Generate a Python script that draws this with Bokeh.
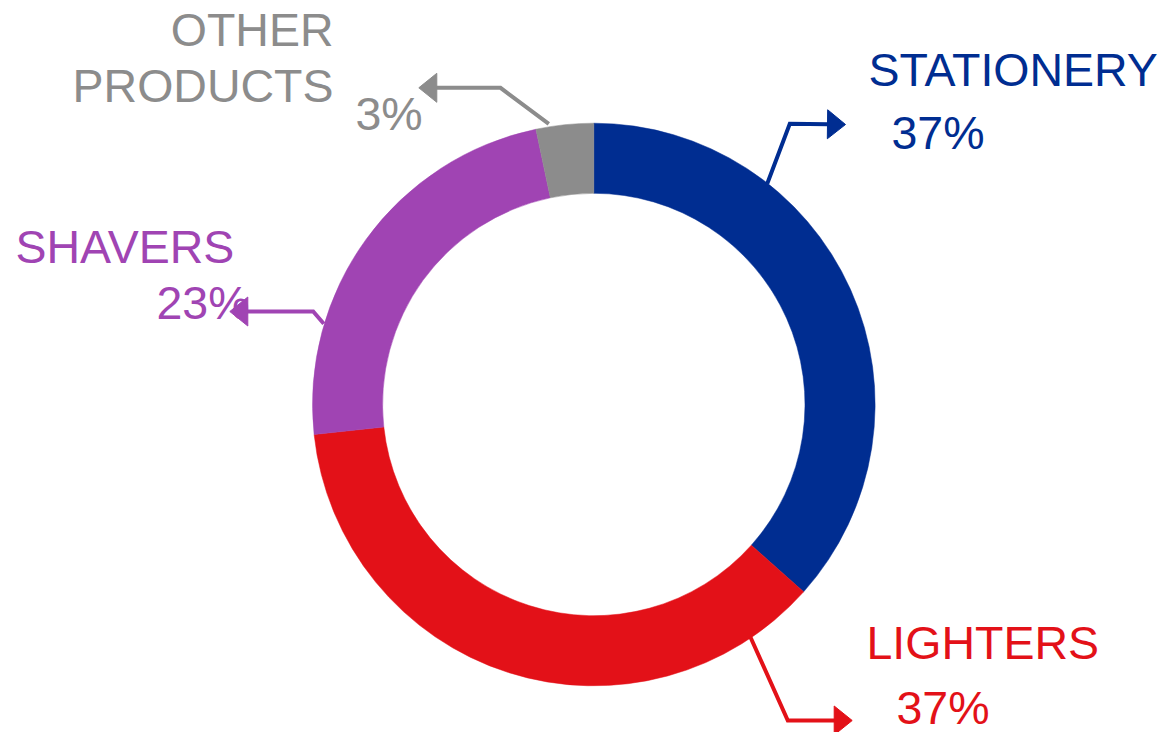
import math
from bokeh.plotting import figure
from bokeh.models import Range1d
from bokeh.core.properties import value
from bokeh.embed import file_html
from bokeh.resources import INLINE

# ---- data ----
categories = ["STATIONERY", "LIGHTERS", "SHAVERS", "OTHER\nPRODUCTS"]
shares = [36.6, 36.7, 23.4, 3.3]
pct_labels = ["37%", "37%", "23%", "3%"]
colors = ["#002D91", "#E31118", "#A044B3", "#8C8C8C"]

# ---- layout (pixel coordinates, y measured downwards) ----
W, H = 1163, 732
CX, CY = 593.3, 404.0
R_OUT, R_IN = 281.3, 211.2
FONT = "Liberation Sans"
FSIZE = "46.5px"
TEXT_SHIFT = -17.0  # renderer baseline correction

def fy(y):
    return H - y

p = figure(width=W, height=H, output_backend="svg", toolbar_location=None,
           x_range=Range1d(0, W), y_range=Range1d(0, H), min_border=0,
           outline_line_color=None, background_fill_color="white",
           border_fill_color="white")
p.axis.visible = False
p.grid.visible = False

# wedges, clockwise from 12 o'clock
total = sum(shares)
cum = 0.0
starts, ends = [], []
for s in shares:
    a0 = math.pi / 2 - 2 * math.pi * cum / total
    a1 = a0 - 2 * math.pi * s / total
    starts.append(a0)
    ends.append(a1)
    cum += s
p.annular_wedge(x=[CX] * len(shares), y=[fy(CY)] * len(shares),
                inner_radius=R_IN, outer_radius=R_OUT,
                start_angle=starts, end_angle=ends, direction="clock",
                fill_color=colors, line_color=colors, line_width=0.5)

# leader arrows: (start, bend, tip) in pixels
arrows = [
    [(766.7, 183.3), (789.3, 123.3), (845.0, 124.0)],
    [(750.0, 636.7), (787.3, 720.0), (851.7, 720.0)],
    [(323.3, 323.3), (312.7, 311.0), (229.3, 311.0)],
    [(548.3, 123.3), (500.0, 87.3), (418.3, 87.3)],
]
HEAD_LEN, HEAD_HALF = 18.0, 14.5
for pts, c in zip(arrows, colors):
    (x0, y0), (x1, y1), (x2, y2) = pts
    dx = x2 - x1
    dy = y2 - y1
    L = math.hypot(dx, dy)
    ux, uy = dx / L, dy / L
    bx, by = x2 - ux * HEAD_LEN, y2 - uy * HEAD_LEN
    p.line([x0, x1, bx + ux * 1.0], [fy(y0), fy(y1), fy(by + uy * 1.0)],
           line_color=c, line_width=4, line_join="miter")
    nx, ny = -uy, ux
    p.patch([x2, bx + nx * HEAD_HALF, bx - nx * HEAD_HALF],
            [fy(y2), fy(by + ny * HEAD_HALF), fy(by - ny * HEAD_HALF)],
            fill_color=c, line_color=c, line_width=1)

# labels: name line positions (x, baseline y), pct position
name_pos = [
    [(868.0, 86.0)],
    [(866.0, 659.0)],
    [(15.0, 263.0)],
    [(333.0, 46.0), (333.0, 102.0)],
]
name_align = ["left", "left", "left", "right"]
pct_pos = [(891.0, 149.0), (896.0, 724.0), (156.0, 319.0), (355.0, 130.0)]

for cat, npos, al, ppos, pct, c in zip(categories, name_pos, name_align,
                                         pct_pos, pct_labels, colors):
    lines = cat.split("\n")
    for line, (tx, ty) in zip(lines, npos):
        p.text(x=[tx], y=[fy(ty + TEXT_SHIFT)], text=[line], text_color=c,
               text_font=value(FONT), text_font_size=FSIZE,
               text_align=al, text_baseline="alphabetic")
    p.text(x=[ppos[0]], y=[fy(ppos[1] + TEXT_SHIFT)], text=[pct], text_color=c,
           text_font=value(FONT), text_font_size=FSIZE,
           text_align="left", text_baseline="alphabetic")

open("out.html", "w").write(file_html(p, INLINE))
